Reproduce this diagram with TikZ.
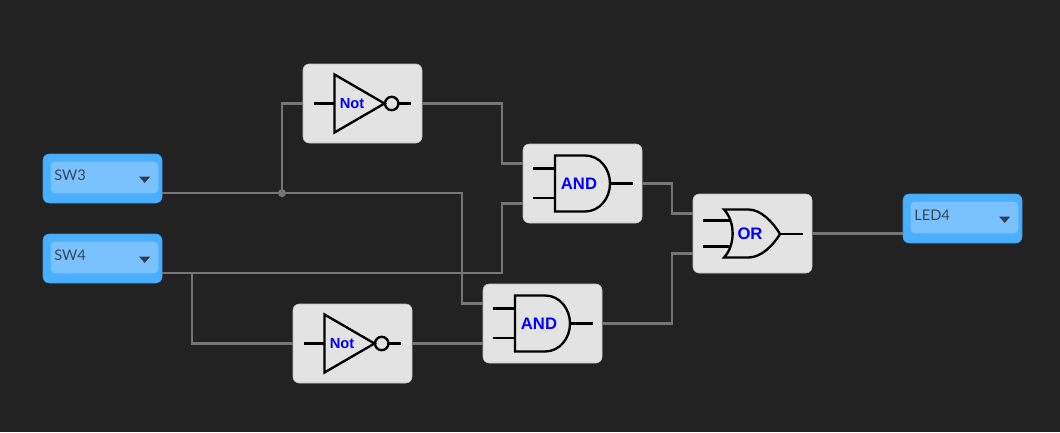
\documentclass[tikz,border=0pt]{standalone}
\usepackage{fontspec}
\setmainfont{Liberation Sans}
\newfontfamily\selfont{Lato}
\usetikzlibrary{calc}
\definecolor{bgdark}{HTML}{222222}
\definecolor{boxgrey}{HTML}{E3E3E3}
\definecolor{boxedge}{HTML}{BDBDBD}
\definecolor{wiregrey}{HTML}{757575}
\definecolor{selouter}{HTML}{4AAFFF}
\definecolor{selinner}{HTML}{79C2FF}
\definecolor{seltext}{HTML}{36475A}
\tikzset{
    wire/.style={wiregrey, line width=1.6pt},
    sym/.style={black, line width=1.75pt},
    gatebox/.style={draw=boxedge, line width=0.4pt, fill=boxgrey, rounded corners=4.5pt,
        minimum width=89.25pt, minimum height=59.25pt, inner sep=0pt},
    selbox/.style={draw=selouter!85!black, line width=0.4pt, fill=selouter, rounded corners=4.5pt,
        minimum width=89.25pt, minimum height=36.75pt, inner sep=0pt},
    selin/.style={fill=selinner, rounded corners=3pt,
        minimum width=80.7pt, minimum height=23.7pt, inner sep=0pt},
    seltxt/.style={text=seltext, font=\selfont\fontsize{11}{13}\selectfont, inner sep=0pt, anchor=west},
    gatetxt/.style={text=blue, font=\bfseries\fontsize{12.5}{14}\selectfont, inner sep=0pt},
    nottxt/.style={text=blue, font=\bfseries\fontsize{11}{13}\selectfont, inner sep=0pt},
    dropsel/.pic={
        \node[selin] (-in) at (2,-1) {};
        \node[seltxt] (-txt) at (-48.5,-3) {#1};
        \fill[seltext!90!black] (36.7,-1.8) -- (47.7,-1.8) -- (42.2,4.4) -- cycle;
    },
    notsym/.pic={
        \draw[sym, line join=miter] (-28,-29) -- (22,0) -- (-28,29) -- cycle;
        \draw[sym] (29.2,0) circle[radius=6.7];
        \draw[sym] (-48.5,0) -- (-28,0);
        \draw[sym] (36,0) -- (48,0);
        \node[nottxt] (-txt) at (-10.5,0) {Not};
    },
    andsym/.pic={
        \draw[sym] (2.5,-28) -- (-27.5,-28) -- (-27.5,28) -- (2.5,28)
            .. controls (17,28) and (27.5,15) .. (27.5,0)
            .. controls (27.5,-15) and (17,-28) .. (2.5,-28) -- cycle;
        \draw[sym] (-50,-15) -- (-27.5,-15);
        \draw[sym] (-50,14.5) -- (-27.5,14.5);
        \draw[sym] (27.5,0) -- (50,0);
        \node[gatetxt] (-txt) at (-3.5,0) {AND};
    },
    orsym/.pic={
        \draw[sym] (-28.5,-24) -- (-4,-24)
            .. controls (8,-24) and (20,-12) .. (27.5,0.5)
            .. controls (20,13) and (8,24) .. (-4,24)
            -- (-28.5,24)
            .. controls (-17,12) and (-17,-12) .. (-28.5,-24) -- cycle;
        \draw[sym] (-50,-13) -- (-22,-13);
        \draw[sym] (-50,13) -- (-22,13);
        \draw[sym] (27.5,0.5) -- (50,0.5);
        \node[gatetxt] (-txt) at (-2.5,0.5) {OR};
    },
}
\begin{document}
\begin{tikzpicture}[x=0.75pt,y=-0.75pt]
    \fill[bgdark] (0,0) rectangle (1060,432);
    \useasboundingbox (0,0) rectangle (1060,432);

    \node[selbox] (sw3) at (102.5,178.5) {};
    \node[selbox] (sw4) at (102.5,258.5) {};
    \node[selbox] (led4) at (962.5,218.5) {};
    \node[gatebox] (not1) at (362.5,103.5) {};
    \node[gatebox] (not2) at (352.5,343.5) {};
    \node[gatebox] (and1) at (582.5,183.5) {};
    \node[gatebox] (and2) at (542.5,323.5) {};
    \node[gatebox] (or1) at (752.5,233.5) {};

    \coordinate (sw3out) at ([yshift=-11pt]sw3.east);
    \coordinate (sw4out) at ([yshift=-11pt]sw4.east);
    \node[circle, fill=wiregrey, inner sep=0pt, minimum size=6pt] (dot3) at (sw3out -| 282,0) {};
    \coordinate (tee4) at (sw4out -| 192,0);

    \draw[wire] (sw3out) -- (dot3.center) |- (not1.west);
    \draw[wire] (dot3.center) -| (462,250) |- ([yshift=15pt]and2.west);
    \draw[wire] (sw4out) -| (502,240) |- ([yshift=-15pt]and1.west);
    \draw[wire] (tee4) |- (not2.west);
    \draw[wire] (not1.east) -| (502,130) |- ([yshift=15pt]and1.west);
    \draw[wire] (not2.east) -- ([yshift=-15pt]and2.west);
    \draw[wire] (and1.east) -| (672,200) |- ([yshift=15pt]or1.west);
    \draw[wire] (and2.east) -| (672,290) |- ([yshift=-15pt]or1.west);
    \draw[wire] (or1.east) -- (or1.east -| led4.west);

    \pic (sw3p) at (sw3) {dropsel=SW3};
    \pic (sw4p) at (sw4) {dropsel=SW4};
    \pic (led4p) at (led4) {dropsel=LED4};
    \pic (not1p) at (not1) {notsym};
    \pic (not2p) at (not2) {notsym};
    \pic (and1p) at (and1) {andsym};
    \pic (and2p) at (and2) {andsym};
    \pic (or1p) at (or1) {orsym};
\end{tikzpicture}
\end{document}
